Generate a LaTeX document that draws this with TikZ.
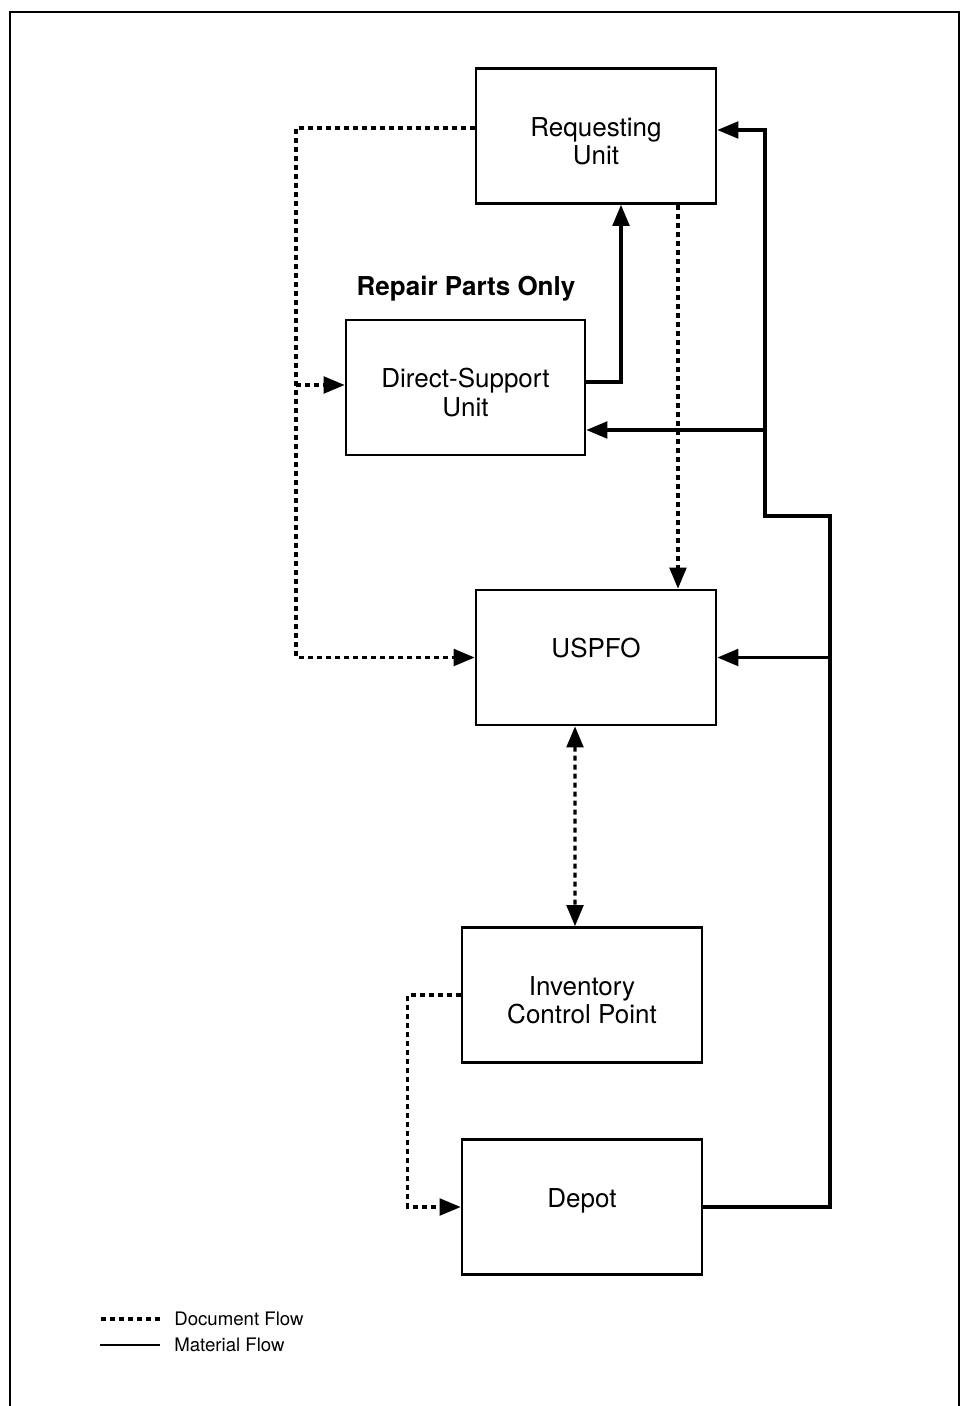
\documentclass[tikz,border=0pt]{standalone}
\usepackage{fontspec}
\setmainfont{TeX Gyre Heros}
\usepackage{tikz}
\usetikzlibrary{arrows.meta,positioning,calc}

\begin{document}
\begin{tikzpicture}[
  x=0.02cm, y=-0.02cm,
  box/.style={draw, line width=1.5pt, minimum width=4.8cm, minimum height=2.7cm},
  boxtext/.style={align=center, inner sep=0pt, font=\fontsize{14.8pt}{16pt}\selectfont},
  doc/.style={line width=1.8pt, dash pattern=on 0.1cm off 0.08cm},
  mat/.style={line width=1.8pt},
  tip/.tip={Triangle[length=12pt, width=9.5pt]},
  legend/.style={font=\fontsize{10.6pt}{12pt}\selectfont, anchor=west, inner sep=0pt}
]
\useasboundingbox (0,0) rectangle (971,1406);
% frame
\draw[line width=1.2pt] (10,1420) |- (959,12) -- (959,1420);

% units
\node[box] (ru) at (596,136) {};
\node[box, minimum width=4.78cm] (dsu) at (465.5,387.5) {};
\node[box] (uspfo) at (596,657.5) {};
\node[box] (icp) at (582,995) {};
\node[box] (depot) at (582,1207) {};

\node[boxtext] (rutext) at ([yshift=-0.11cm]ru.center) {Requesting\\Unit};
\node[boxtext] (dsutext) at ([yshift=-0.1cm]dsu.center) {Direct-Support\\Unit};
\node[boxtext, anchor=base] (uspfotext) at (uspfo.center) {USPFO};
\node[boxtext] (icptext) at ([yshift=-0.11cm]icp.center) {Inventory\\Control Point};
\node[boxtext, anchor=base] (depottext) at (depot.center) {Depot};
\node[boxtext, font=\fontsize{14.8pt}{16pt}\selectfont\bfseries] (rpo) at (466,289) {Repair Parts Only};

% document flow
\coordinate (ltrunk) at (296,385);
\draw[doc, -tip] ([yshift=0.16cm]ru.west) -| (ltrunk) |- (uspfo.west);
\draw[doc, -tip] (ltrunk) -- (ltrunk -| dsu.west);
\draw[doc, -tip] ([xshift=1.64cm]ru.south) -- ([xshift=1.64cm]uspfo.north);
\draw[doc, tip-tip] ([xshift=-0.42cm]uspfo.south) -- ([xshift=-0.14cm]icp.north);
\draw[doc, -tip] (icp.west) -- ++(-1.06cm,0) |- (depot.west);

% material flow
\coordinate (rt1) at (830,516);
\coordinate (rt2) at (765,516);
\coordinate (dsuin) at ([yshift=-0.85cm]dsu.east);
\draw[mat, -tip] ([yshift=0.11cm]dsu.east) -| ([xshift=0.5cm]ru.south);
\draw[mat, -tip] (depot.east) -| (rt1) -- (rt2) |- ([yshift=0.12cm]ru.east);
\draw[mat, -tip] (dsuin -| rt2) -- (dsuin);
\draw[mat, -tip] (uspfo.east -| rt1) -- (uspfo.east);

% legend
\node[legend] (docl) at (174,1319) {Document Flow};
\node[legend] (matl) at (174,1345) {Material Flow};
\draw[doc] ([xshift=-0.28cm]docl.west) -- ++(-1.2cm,0);
\draw[mat, line width=1pt] ([xshift=-0.28cm]matl.west) -- ++(-1.2cm,0);
\end{tikzpicture}
\end{document}
